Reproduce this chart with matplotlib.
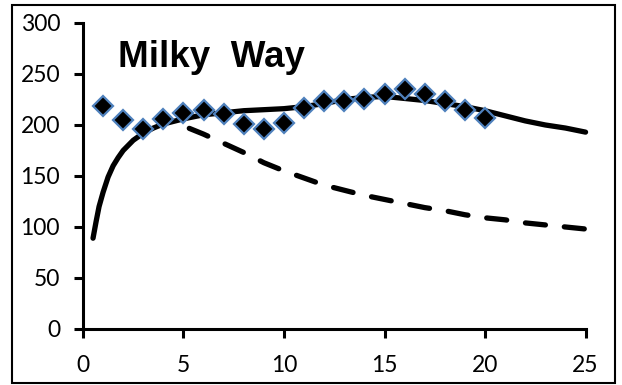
import matplotlib.pyplot as plt
from matplotlib.patches import Rectangle

# measured rotation speeds (km/s) against radius (kpc)
obs_r = [1, 2, 3, 4, 5, 6, 7, 8, 9, 10, 11, 12, 13, 14, 15, 16, 17, 18, 19, 20]
obs_v = [219, 205, 196, 206, 212, 215, 211, 201, 196, 202, 217, 224, 224, 225, 230, 235, 230, 224, 215, 207]

# total model curve
total_r = [0.5, 0.65, 0.8, 1, 1.25, 1.5, 1.75, 2, 2.5, 3, 3.5, 4, 5, 6, 7, 8, 9, 10, 11, 12, 13, 14, 15, 16, 17, 18, 19, 20, 21, 22, 23, 24, 25]
total_v = [89, 105, 120, 134, 149, 160, 168, 175, 185, 192, 197, 201, 206, 210, 212, 214, 215, 216, 218, 221, 225, 227, 228, 226, 224, 221, 218, 214, 209, 204, 200, 197, 193]

# disk-only curve
disk_r = [4.5, 5, 6, 7, 8, 9, 10, 11, 12, 13, 14, 15, 16, 17, 18, 19, 20, 21, 22, 23, 24, 25]
disk_v = [200, 199, 191, 182, 173, 163, 155, 148, 141, 136, 131, 127, 123, 119, 116, 112, 109, 107, 104, 102, 100, 98]

plt.rcParams['font.family'] = ['Lato', 'DejaVu Sans']

fig = plt.figure(figsize=(6.22, 3.85), dpi=100)
ax = fig.add_axes([0.1334, 0.1455, 0.808, 0.7948])

ax.plot(total_r, total_v, color='black', lw=3.8, solid_capstyle='round', solid_joinstyle='round',
        zorder=2, clip_on=False)
ax.plot(disk_r, disk_v, color='black', lw=3.8, linestyle=(4.3, (3.8, 3.6)), dash_capstyle='round',
        zorder=2, clip_on=False)
ax.plot(obs_r, obs_v, linestyle='none', marker='D', markersize=10, markerfacecolor='black',
        markeredgecolor='#4F81BD', markeredgewidth=1.6, zorder=3, clip_on=False)

ax.text(1.75, 257, 'Milky  Way', fontsize=26.5, fontweight='bold', family='Liberation Sans',
        ha='left', va='baseline')

ax.set_xlim(0, 25)
ax.set_ylim(0, 300)
ax.set_xticks([0, 5, 10, 15, 20, 25])
ax.set_yticks([0, 50, 100, 150, 200, 250, 300])
for side in ['top', 'right']:
    ax.spines[side].set_visible(False)
for side in ['left', 'bottom']:
    ax.spines[side].set_linewidth(2.2)
ax.tick_params(width=2.2, length=6.5, labelsize=16.5)
ax.tick_params(axis='x', pad=12)
ax.tick_params(axis='y', pad=10)

# frame round the whole chart
fig.patches.append(Rectangle((12 / 622, 1 - 383 / 385), 603 / 622, 378 / 385,
                             transform=fig.transFigure, fill=False, edgecolor='black', lw=1.5))

fig.savefig('out.png', dpi=100)
